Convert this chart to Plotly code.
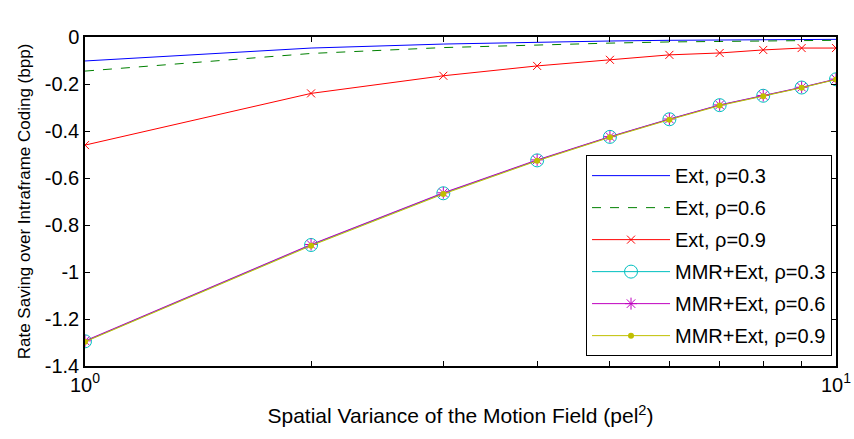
import plotly.graph_objects as go

x_vals = [1, 2, 3, 4, 5, 6, 7, 8, 9, 10]
ext_03 = [-0.102, -0.047, -0.030, -0.022, -0.017, -0.014, -0.012, -0.011, -0.010, -0.010]
ext_06 = [-0.145, -0.070, -0.045, -0.033, -0.026, -0.021, -0.018, -0.016, -0.015, -0.014]
ext_09 = [-0.460, -0.240, -0.165, -0.123, -0.097, -0.076, -0.068, -0.055, -0.047, -0.047]
mmr_03 = [-1.295, -0.885, -0.665, -0.525, -0.425, -0.350, -0.290, -0.250, -0.215, -0.180]
mmr_06 = [-1.293, -0.883, -0.663, -0.523, -0.424, -0.349, -0.289, -0.249, -0.214, -0.179]
mmr_09 = [-1.297, -0.888, -0.668, -0.527, -0.427, -0.352, -0.292, -0.252, -0.216, -0.181]

y_ticks = [0, -0.2, -0.4, -0.6, -0.8, -1.0, -1.2, -1.4]
y_ticktext = ["0", "-0.2", "-0.4", "-0.6", "-0.8", "-1", "-1.2", "-1.4"]
x_ticktext = ["10<sup>0</sup>", "", "", "", "", "", "", "", "", "10<sup>1</sup>"]

fig = go.Figure()
fig.add_trace(go.Scatter(x=x_vals, y=ext_03, mode="lines", name="Ext, ρ=0.3", legendgroup="a",
                         line=dict(color="#0000ff", width=1)))
fig.add_trace(go.Scatter(x=x_vals, y=ext_06, mode="lines", name="Ext, ρ=0.6", legendgroup="b",
                         line=dict(color="#008000", width=1, dash="dash")))
fig.add_trace(go.Scatter(x=x_vals, y=ext_09, mode="lines+markers", name="Ext, ρ=0.9", legendgroup="c",
                         line=dict(color="#ff0000", width=1),
                         marker=dict(symbol="x-thin-open", size=8, color="#ff0000",
                                     line=dict(color="#ff0000", width=1))))
fig.add_trace(go.Scatter(x=x_vals, y=mmr_03, mode="lines+markers", name="MMR+Ext, ρ=0.3", legendgroup="d",
                         line=dict(color="#00bfbf", width=1),
                         marker=dict(symbol="circle-open", size=13, color="#00bfbf",
                                     line=dict(color="#00bfbf", width=1))))
fig.add_trace(go.Scatter(x=x_vals, y=mmr_06, mode="lines+markers", name="MMR+Ext, ρ=0.6", legendgroup="e",
                         line=dict(color="#bf00bf", width=1),
                         marker=dict(symbol="asterisk-open", size=10, color="#bf00bf",
                                     line=dict(color="#bf00bf", width=1))))
fig.add_trace(go.Scatter(x=x_vals, y=mmr_09, mode="lines+markers", name="MMR+Ext, ρ=0.9", legendgroup="f",
                         line=dict(color="#bfbf00", width=1),
                         marker=dict(symbol="circle", size=6, color="#bfbf00")))

fam = "Liberation Sans, Arial, sans-serif"
tick_font = dict(family=fam, size=20, color="black")

fig.update_layout(
    width=854, height=439,
    margin=dict(l=85, r=18, t=37, b=73),
    paper_bgcolor="white", plot_bgcolor="white",
    font=dict(family=fam, size=20, color="black"),
    showlegend=True,
    legend=dict(x=0.9947, y=0.03, xanchor="right", yanchor="bottom",
                bgcolor="white", bordercolor="black", borderwidth=1,
                font=dict(family=fam, size=20, color="black"),
                tracegroupgap=3, itemwidth=78),
    xaxis=dict(type="log", range=[0, 1], tickvals=x_vals, ticktext=x_ticktext,
               ticks="inside", ticklen=5, tickcolor="black", showgrid=False, automargin=False,
               zeroline=False, showline=True, linecolor="black", linewidth=1.5, mirror="ticks",
               title=dict(text="Spatial Variance of the Motion Field (pel<sup>2</sup>)",
                          font=dict(family=fam, size=21, color="black"), standoff=14),
               tickfont=tick_font),
    yaxis=dict(range=[-1.4, 0], tickvals=y_ticks, ticktext=y_ticktext,
               ticks="inside", ticklen=5, tickcolor="black", showgrid=False, automargin=False,
               zeroline=False, showline=True, linecolor="black", linewidth=1.5, mirror="ticks",
               title=dict(text="Rate Saving over Intraframe Coding (bpp)",
                          font=dict(family=fam, size=17, color="black"), standoff=10),
               tickfont=tick_font),
)

fig.write_html("out.html")
